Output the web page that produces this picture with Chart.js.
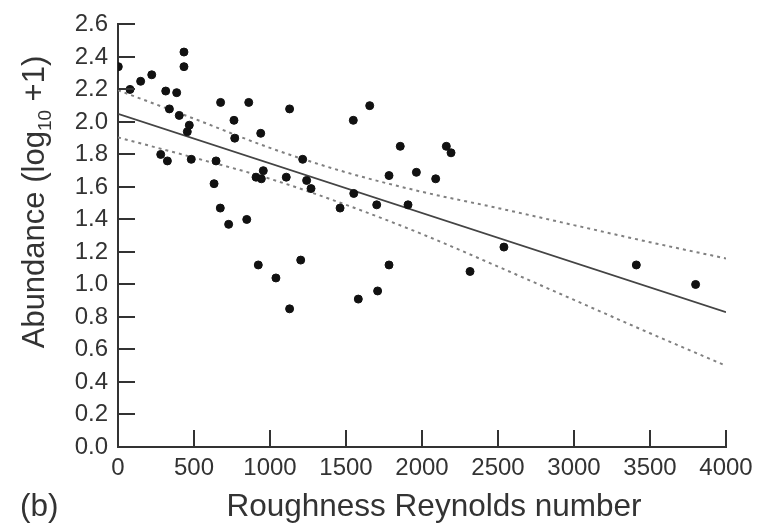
<!DOCTYPE html>
<html>
<head>
<meta charset="utf-8">
<script src="https://cdn.jsdelivr.net/npm/chart.js@4.4.1/dist/chart.umd.min.js"></script>
<style>
  html, body { margin: 0; padding: 0; background: #fff; }
  #wrap { position: relative; width: 769px; height: 524px; }
</style>
</head>
<body>
<div id="wrap"><canvas id="chart"></canvas></div>
<script>
// observed points (Roughness Reynolds number, abundance)
const obsX = [2, 79, 149, 222, 281, 314, 325, 338, 386, 403, 434, 434, 456, 469, 482,
  632, 645, 673, 675, 728, 763, 768, 847, 860, 908, 923, 939, 943, 956, 1039,
  1107, 1129, 1129, 1202, 1215, 1241, 1270, 1461, 1548, 1551, 1581, 1656, 1702, 1708,
  1783, 1783, 1857, 1908, 1963, 2090, 2160, 2191, 2316, 2539, 3410, 3800];
const obsY = [2.34, 2.20, 2.25, 2.29, 1.80, 2.19, 1.76, 2.08, 2.18, 2.04, 2.43, 2.34, 1.94, 1.98, 1.77,
  1.62, 1.76, 1.47, 2.12, 1.37, 2.01, 1.90, 1.40, 2.12, 1.66, 1.12, 1.93, 1.65, 1.70, 1.04,
  1.66, 2.08, 0.85, 1.15, 1.77, 1.64, 1.59, 1.47, 2.01, 1.56, 0.91, 2.10, 1.49, 0.96,
  1.67, 1.12, 1.85, 1.49, 1.69, 1.65, 1.85, 1.81, 1.08, 1.23, 1.12, 1.00];

// regression line
const fitX = [0, 4000];
const fitY = [2.05, 0.83];

// confidence band
const bandX = [0, 500, 1000, 1500, 2000, 2500, 3000, 3500, 4000];
const bandUpper = [2.195, 2.02, 1.84, 1.69, 1.57, 1.47, 1.365, 1.26, 1.16];
const bandLower = [1.905, 1.78, 1.65, 1.49, 1.31, 1.11, 0.905, 0.70, 0.50];

const xTicks = [0, 500, 1000, 1500, 2000, 2500, 3000, 3500, 4000];
const yTicks = [0, 0.2, 0.4, 0.6, 0.8, 1.0, 1.2, 1.4, 1.6, 1.8, 2.0, 2.2, 2.4, 2.6];

const pts = (xs, ys) => xs.map((x, i) => ({ x: x, y: ys[i] }));

const FONT = '"Liberation Sans", Arial, Helvetica, sans-serif';
const INK = '#333';

// ticks pointing into the plot, plus the axis titles
const extras = {
  id: 'extras',
  afterDraw(chart) {
    const ctx = chart.ctx;
    const xs = chart.scales.x, ys = chart.scales.y;
    const left = xs.left, bottom = ys.bottom;
    ctx.save();
    ctx.strokeStyle = INK;
    ctx.lineWidth = 2;
    ctx.beginPath();
    xTicks.forEach(v => {
      if (v === 0) return;
      const px = Math.round(xs.getPixelForValue(v));
      ctx.moveTo(px, bottom);
      ctx.lineTo(px, bottom - 17);
    });
    yTicks.forEach(v => {
      if (v === 0) return;
      const py = Math.round(ys.getPixelForValue(v));
      ctx.moveTo(left, py);
      ctx.lineTo(left + 17, py);
    });
    ctx.stroke();

    ctx.fillStyle = INK;
    ctx.textBaseline = 'alphabetic';
    ctx.font = '31.5px ' + FONT;
    ctx.textAlign = 'center';
    ctx.fillText('Roughness Reynolds number', 434, 516);
    ctx.textAlign = 'left';
    ctx.fillText('(b)', 20, 516);

    // y title with subscript
    const big = '31px ' + FONT, small = '19px ' + FONT;
    const parts = [['Abundance (log', big, 0], ['10', small, 7], [' +1)', big, 0]];
    let total = 0;
    parts.forEach(p => { ctx.font = p[1]; total += ctx.measureText(p[0]).width; });
    ctx.translate(44, 202);
    ctx.rotate(-Math.PI / 2);
    let cx = -total / 2;
    parts.forEach(p => {
      ctx.font = p[1];
      ctx.fillText(p[0], cx, p[2]);
      cx += ctx.measureText(p[0]).width;
    });
    ctx.restore();
  }
};

new Chart(document.getElementById('chart'), {
  type: 'scatter',
  data: {
    datasets: [
      {
        label: 'Observed',
        data: pts(obsX, obsY),
        backgroundColor: '#111',
        borderColor: '#111',
        pointRadius: 4,
        pointHoverRadius: 4
      },
      {
        label: 'Fit',
        data: pts(fitX, fitY),
        showLine: true,
        borderColor: '#444',
        borderWidth: 1.8,
        pointRadius: 0
      },
      {
        label: 'Upper',
        data: pts(bandX, bandUpper),
        showLine: true,
        cubicInterpolationMode: 'monotone',
        borderColor: '#808080',
        borderWidth: 2,
        borderDash: [3, 4],
        pointRadius: 0
      },
      {
        label: 'Lower',
        data: pts(bandX, bandLower),
        showLine: true,
        cubicInterpolationMode: 'monotone',
        borderColor: '#808080',
        borderWidth: 2,
        borderDash: [3, 4],
        pointRadius: 0
      }
    ]
  },
  options: {
    responsive: true,
    maintainAspectRatio: false,
    animation: false,
    layout: { padding: { top: 20, right: 43, left: 0, bottom: 0 } },
    plugins: {
      legend: { display: false },
      tooltip: { enabled: false }
    },
    scales: {
      x: {
        type: 'linear',
        min: 0,
        max: 4000,
        afterFit: s => { s.height = 77; },
        afterBuildTicks: s => { s.ticks = xTicks.map(v => ({ value: v })); },
        grid: { display: false, drawTicks: false },
        border: { display: true, color: INK, width: 2 },
        ticks: {
          autoSkip: false,
          maxRotation: 0,
          padding: 7,
          color: INK,
          font: { family: FONT, size: 24 },
          callback: v => String(v)
        }
      },
      y: {
        type: 'linear',
        min: 0,
        max: 2.6,
        afterFit: s => { s.width = 118; },
        afterBuildTicks: s => { s.ticks = yTicks.map(v => ({ value: v })); },
        grid: { display: false, drawTicks: false },
        border: { display: true, color: INK, width: 2 },
        ticks: {
          padding: 10,
          color: INK,
          font: { family: FONT, size: 24 },
          callback: v => Number(v).toFixed(1)
        }
      }
    }
  },
  plugins: [extras]
});
</script>
</body>
</html>
